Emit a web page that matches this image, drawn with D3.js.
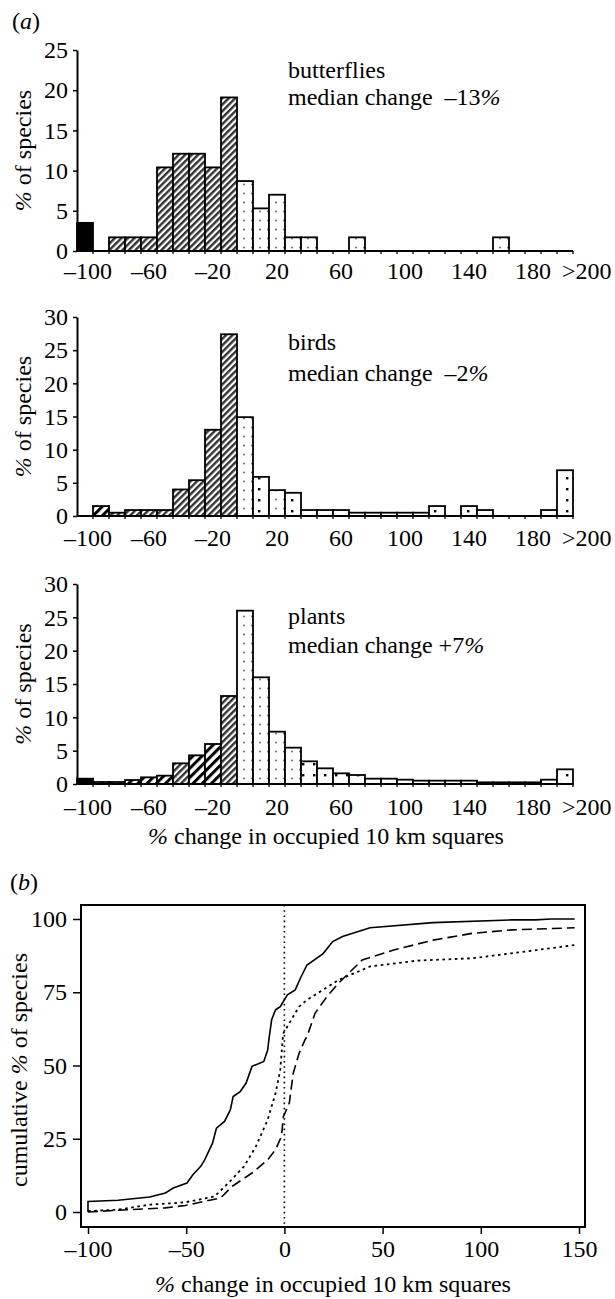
<!DOCTYPE html>
<html>
<head>
<meta charset="utf-8">
<script src="https://cdn.jsdelivr.net/npm/d3@7"></script>
<style>
  body { margin: 0; background: #fff; }
  svg text { font-family: "Liberation Serif", "Times New Roman", "DejaVu Serif", serif; fill: #000; }
</style>
</head>
<body>
<svg id="chart" width="615" height="1299"></svg>
<script>
// classes of % change in occupied 10 km squares (10% wide, last one open)
const bins = ["-100", "-90", "-80", "-70", "-60", "-50", "-40", "-30", "-20", "-10",
  "0", "10", "20", "30", "40", "50", "60", "70", "80", "90", "100", "110", "120",
  "130", "140", "150", "160", "170", "180", "190", ">200"];
const binLabels = ["-100", "-60", "-20", "20", "60", "100", "140", "180", ">200"];

// % of species in each class
const butterflies = [3.5, 0, 1.7, 1.7, 1.7, 10.4, 12.1, 12.1, 10.4, 19.1, 8.7, 5.3, 7.0, 1.7, 1.7,
  0, 0, 1.7, 0, 0, 0, 0, 0, 0, 0, 0, 1.7, 0, 0, 0, 0];
const birds = [0, 1.5, 0.5, 0.9, 0.9, 0.9, 4.0, 5.4, 13.0, 27.4, 14.9, 5.9, 3.9, 3.5, 0.9,
  0.9, 0.9, 0.5, 0.5, 0.5, 0.5, 0.5, 1.5, 0, 1.5, 0.9, 0, 0, 0, 0.9, 6.9];
const plants = [0.8, 0.3, 0.3, 0.6, 1.0, 1.25, 3.1, 4.3, 6.0, 13.2, 26.0, 16.0, 7.85, 5.45, 3.4,
  2.35, 1.6, 1.35, 0.8, 0.8, 0.65, 0.5, 0.5, 0.5, 0.5, 0.25, 0.25, 0.25, 0.25, 0.65, 2.2];

// fill type of each class: s solid, h hatched, b bold hatched, d dotted, k bold dotted
const butterflyFill = "shhhhhhhhhddddddddddddddddddddd".split("");
const birdFill = "hbhhhhhhhhdkdkddddddddkdkdddddk".split("");
const plantFill = "sbbbbbhbbhddddkkkkddddddddddddk".split("");

const medians = ["\u201313", "\u20132", "+7"];

// cumulative % of species, [change, cumulative %]
const butterflyCum = [[-100, 0], [-100, 3.6], [-84.7, 4.0], [-68.6, 5.1], [-60.6, 6.5], [-56.6, 8.2],
  [-49.6, 9.9], [-46.6, 12.7], [-42.6, 15.6], [-40.6, 17.8], [-36.6, 23.5], [-34.6, 28.6],
  [-30.5, 30.9], [-27.5, 34.9], [-26.1, 39.4], [-22.5, 41.1], [-19.5, 44.0], [-16.5, 49.7],
  [-10.5, 51.4], [-8.5, 55.3], [-7.9, 58.8], [-6.5, 65.6], [-4.5, 69.0], [-2.1, 70.1],
  [1.5, 74.1], [5.5, 75.8], [8.5, 80.3], [11.5, 84.3], [19.6, 88.1], [24.6, 92.3],
  [29.6, 94.0], [43.6, 97.0], [75.7, 98.75], [115.8, 99.7], [127.8, 99.7], [135.8, 100],
  [147.8, 100]];
const birdCum = [[-100, 0.3], [-84.7, 0.8], [-68.6, 2.5], [-50.6, 3.3], [-35.6, 5.3],
  [-28.5, 9.9], [-20.5, 15.6], [-14.5, 22.4], [-8.5, 31.5], [-4.5, 40.6], [-2.1, 48.5],
  [-0.9, 58.8], [-0.5, 61.0], [3.5, 65.6], [7.5, 70.1], [11.5, 72.4], [19.6, 75.8],
  [27.6, 79.2], [43.6, 83.8], [67.7, 85.8], [95.7, 86.6], [115.8, 88.3], [147.8, 91.1]];
const plantCum = [[-100, 0], [-84.7, 0.6], [-60.6, 1.4], [-50.6, 2.2], [-32.5, 4.8],
  [-26.5, 8.8], [-16.5, 13.3], [-8.5, 17.8], [-4.5, 21.3], [-1.5, 25.8], [-0.5, 32.6],
  [2.5, 37.2], [4.5, 47.4], [7.5, 54.2], [10.5, 58.8], [11.5, 59.9], [15.6, 67.8],
  [21.6, 73.5], [27.6, 78.1], [39.6, 86.0], [55.6, 89.4], [75.7, 92.8], [95.7, 95.1],
  [115.8, 96.3], [147.8, 97.0]];

const changeTicks = [-100, -50, 0, 50, 100, 150];
const cumTicks = [0, 25, 50, 75, 100];

const svg = d3.select("#chart");
const fontSize = 24;
const dash = s => s.replace("-", "\u2013");

// fill patterns
const defs = svg.append("defs");
function stripes(id, size, width, color) {
  const p = defs.append("pattern").attr("id", id)
    .attr("patternUnits", "userSpaceOnUse")
    .attr("width", size).attr("height", size)
    .attr("patternTransform", "rotate(45)");
  p.append("rect").attr("width", size).attr("height", size).attr("fill", "#fff");
  p.append("rect").attr("width", width).attr("height", size).attr("fill", color);
}
stripes("hatch", 4.6, 2.4, "#333");
stripes("boldHatch", 6.5, 3, "#000");
let p = defs.append("pattern").attr("id", "dots")
  .attr("patternUnits", "userSpaceOnUse").attr("width", 8).attr("height", 9);
p.append("rect").attr("width", 8).attr("height", 9).attr("fill", "#fff");
p.append("circle").attr("cx", 4).attr("cy", 4.5).attr("r", 1.1).attr("fill", "#777");
p = defs.append("pattern").attr("id", "boldDots")
  .attr("patternUnits", "userSpaceOnUse").attr("width", 11).attr("height", 11);
p.append("rect").attr("width", 11).attr("height", 11).attr("fill", "#fff");
p.append("rect").attr("x", 5).attr("y", 4).attr("width", 2.4).attr("height", 2.4).attr("fill", "#000");
const fills = { s: "#000", h: "url(#hatch)", b: "url(#boldHatch)", d: "url(#dots)", k: "url(#boldDots)" };

svg.append("text").attr("x", 12).attr("y", 29).attr("font-size", fontSize)
  .html('(<tspan font-style="italic">a</tspan>)');

function histogram(values, fillType, top, bottom, yMax, name, median, nameY, lineGap, labelY) {
  const x = d3.scaleBand().domain(bins).range([77, 573]);
  const y = d3.scaleLinear().domain([0, yMax]).range([bottom, top]);
  const g = svg.append("g");

  const data = bins.map((b, i) => ({ bin: b, value: values[i], fill: fillType[i] }))
    .filter(d => d.value > 0);
  g.selectAll("rect.bar").data(data).join("rect")
    .attr("class", "bar")
    .attr("x", d => x(d.bin))
    .attr("width", x.bandwidth())
    .attr("y", d => y(d.value))
    .attr("height", d => y(0) - y(d.value))
    .attr("fill", d => fills[d.fill])
    .attr("stroke", "#000")
    .attr("stroke-width", 1.8);

  // y axis
  const ya = g.append("g").attr("transform", `translate(${x.range()[0]},0)`)
    .call(d3.axisLeft(y).ticks(yMax / 5).tickSize(4).tickSizeOuter(0).tickPadding(5));
  ya.select(".domain").attr("stroke-width", 2);
  ya.selectAll(".tick line").attr("stroke-width", 1.5);
  ya.selectAll("text").attr("font-size", fontSize).attr("font-family", null);

  // x axis: small ticks at class limits, labels under classes
  g.append("line").attr("x1", x.range()[0]).attr("x2", x.range()[1])
    .attr("y1", y(0)).attr("y2", y(0)).attr("stroke", "#000").attr("stroke-width", 2);
  g.selectAll("line.tk").data(bins.slice(1).concat(["end"])).join("line")
    .attr("class", "tk")
    .attr("x1", d => d === "end" ? x.range()[1] : x(d))
    .attr("x2", d => d === "end" ? x.range()[1] : x(d))
    .attr("y1", y(0)).attr("y2", y(0) + 3)
    .attr("stroke", "#000").attr("stroke-width", 1.3);
  g.selectAll("text.xl").data(binLabels).join("text")
    .attr("class", "xl")
    .attr("x", d => x(d) + x.bandwidth() / 2 + (d === ">200" ? -3 : 0) + (d === "-100" ? 3 : 0))
    .attr("y", labelY)
    .attr("text-anchor", d => d === ">200" ? "start" : "middle")
    .attr("font-size", fontSize)
    .text(dash);

  g.append("text")
    .attr("transform", `translate(31,${(top + bottom) / 2}) rotate(-90)`)
    .attr("text-anchor", "middle").attr("font-size", fontSize)
    .html('<tspan font-style="italic">%</tspan> of species');

  g.append("text").attr("x", 288).attr("y", nameY).attr("font-size", fontSize).text(name);
  g.append("text").attr("x", 288).attr("y", nameY + lineGap).attr("font-size", fontSize)
    .html(`median change ${median.startsWith("+") ? "" : "\u00a0"}${median}<tspan font-style="italic">%</tspan>`);
}

histogram(butterflies, butterflyFill, 50, 251, 25, "butterflies", medians[0], 78, 27, 279);
histogram(birds, birdFill, 317, 516, 30, "birds", medians[1], 350, 31, 546);
histogram(plants, plantFill, 584, 784, 30, "plants", medians[2], 624, 29, 815);

svg.append("text").attr("x", 326).attr("y", 844).attr("text-anchor", "middle")
  .attr("font-size", fontSize)
  .html('<tspan font-style="italic">%</tspan> change in occupied 10 km squares');

// (b) cumulative distributions
svg.append("text").attr("x", 10).attr("y", 890).attr("font-size", fontSize)
  .html('(<tspan font-style="italic">b</tspan>)');

const cx = d3.scaleLinear().domain([-100, 150]).range([88, 579]);
const cy = d3.scaleLinear().domain([0, 100]).range([1212, 919]);
const frame = { left: 81, right: 585, top: 905, bottom: 1227 };

const xa = svg.append("g").attr("transform", `translate(0,${frame.bottom})`)
  .call(d3.axisBottom(cx).tickValues(changeTicks).tickSize(7).tickPadding(6)
    .tickFormat(d => dash(String(d))));
xa.select(".domain").remove();
xa.selectAll(".tick line").attr("stroke-width", 1.5);
xa.selectAll("text").attr("font-size", fontSize).attr("font-family", null);

const yb = svg.append("g").attr("transform", `translate(${frame.left},0)`)
  .call(d3.axisLeft(cy).tickValues(cumTicks).tickSize(8).tickPadding(6));
yb.select(".domain").remove();
yb.selectAll(".tick line").attr("stroke-width", 1.5);
yb.selectAll("text").attr("font-size", fontSize).attr("font-family", null);

svg.append("rect").attr("x", frame.left).attr("y", frame.top)
  .attr("width", frame.right - frame.left).attr("height", frame.bottom - frame.top)
  .attr("fill", "none").attr("stroke", "#000").attr("stroke-width", 2);

svg.append("line").attr("x1", cx(0)).attr("x2", cx(0))
  .attr("y1", frame.top).attr("y2", frame.bottom)
  .attr("stroke", "#000").attr("stroke-width", 1.6).attr("stroke-dasharray", "1.6,3.6");

const line = d3.line().x(d => cx(d[0])).y(d => cy(d[1]));
[[butterflyCum, null, 1.6], [plantCum, "10,5", 1.6], [birdCum, "2.6,3.6", 1.8]].forEach(([s, da, w]) => {
  svg.append("path").attr("d", line(s)).attr("fill", "none")
    .attr("stroke", "#000").attr("stroke-width", w)
    .attr("stroke-dasharray", da);
});

svg.append("text")
  .attr("transform", `translate(27,${(frame.top + frame.bottom) / 2 + 4}) rotate(-90)`)
  .attr("text-anchor", "middle").attr("font-size", fontSize)
  .html('cumulative <tspan font-style="italic">%</tspan> of species');

svg.append("text").attr("x", (frame.left + frame.right) / 2).attr("y", 1292)
  .attr("text-anchor", "middle").attr("font-size", fontSize)
  .html('<tspan font-style="italic">%</tspan> change in occupied 10 km squares');
</script>
</body>
</html>
